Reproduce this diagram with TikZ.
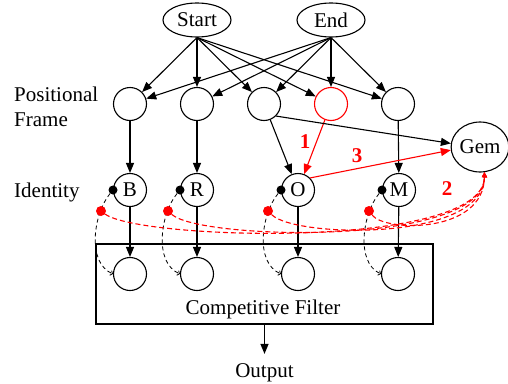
\documentclass[tikz,border=0pt]{standalone}
\usepackage{fontspec}
\setmainfont{Liberation Serif}
\usetikzlibrary{arrows.meta,shapes.geometric}
\begin{document}
\begin{tikzpicture}[x=1pt,y=-1pt,
  every node/.style={font=\fontsize{21}{25}\selectfont},
  lw/.style={line width=1.1pt},
  ell/.style={ellipse,draw,lw,inner sep=0pt,minimum width=68pt,minimum height=34pt},
  cir/.style={circle,draw,lw,inner sep=0pt,minimum size=33pt},
  arr/.style={lw,-{Triangle[length=10pt,width=8pt]}},
  blackdot/.style={circle,fill=black,inner sep=0pt,minimum size=9pt},
  reddot/.style={circle,fill=red,inner sep=0pt,minimum size=10pt},
  fb/.style={line width=0.8pt,dash pattern=on 4pt off 3pt,-{Straight Barb[length=2pt,width=5pt]}},
  rfb/.style={lw,red,dash pattern=on 5pt off 3pt,-{Triangle[length=5pt,width=5pt]}},
  num/.style={text=red,font=\fontsize{21}{25}\selectfont\bfseries}
]
\useasboundingbox (0,0) rectangle (508,383);

% top ellipses
\node[ell] (start) at (197,20) {Start};
\node[ell] (end) at (331,20) {End};

% positional frame
\node[cir] (p1) at (130,104) {};
\node[cir] (p2) at (197,104) {};
\node[cir] (p3) at (264,104) {};
\node[cir,draw=red] (p4) at (331,104) {};
\node[cir] (p5) at (398,104) {};

% identity
\node[cir] (B) at (130,190) {B};
\node[cir] (R) at (197,190) {R};
\node[cir] (O) at (298,190) {O};
\node[cir] (M) at (399,190) {M};

% Gem
\node[ellipse,draw,lw,inner sep=0pt,minimum width=56pt,minimum height=50pt] (gem) at (480,147) {Gem};

% competitive filter box
\node[draw,lw,minimum width=337pt,minimum height=80pt,inner sep=0pt] (box) at (264.5,284) {};
\node (cf) at (263,309) {Competitive Filter};
\node[cir] (q1) at (130,274) {};
\node[cir] (q2) at (197,274) {};
\node[cir] (q3) at (298,274) {};
\node[cir] (q4) at (398,274) {};
\node[anchor=base,inner sep=0pt] (out) at (264.5,377) {Output};

% side labels
\node[anchor=west,align=left,inner sep=0pt] (lpf) at (14,106.5) {Positional\\Frame};
\node[anchor=base west,inner sep=0pt] (lid) at (14,197) {Identity};

% numbers
\node[num] (n1) at (305,142) {1};
\node[num] (n3) at (357,156) {3};
\node[num] (n2) at (447,189) {2};

% start/end edges
\foreach \t in {p1,p2,p3,p4,p5}{
  \draw[arr] (start.south) -- (\t);
  \draw[arr] (end.south) -- (\t);
}

% vertical edges
\draw[arr] (p1) -- (B);
\draw[arr] (p2) -- (R);
\draw[arr] (p3) -- (O);
\draw[arr,red] (p4) -- (O);
\draw[arr] (p5) -- (M);
\draw[arr] (p3.-45) -- (gem.173);
\draw[arr,red] (O.45) -- (gem.186);

\draw[arr] (B) -- (q1);
\draw[arr] (R) -- (q2);
\draw[arr] (O) -- (q3);
\draw[arr] (M) -- (q4);
\draw[arr,shorten >=9pt] (box.south) -- (out.north);

% dots
\node[blackdot] (dB) at (113,190) {};
\node[blackdot] (dR) at (180,190) {};
\node[blackdot] (dO) at (281,190) {};
\node[blackdot] (dM) at (382,190) {};

% black dashed feedback
\draw[fb] (dB) .. controls (94,213) and (86,262) .. (q1.west);
\draw[fb] (dR) .. controls (161,213) and (153,262) .. (q2.west);
\draw[fb] (dO) .. controls (262,213) and (254,262) .. (q3.west);
\draw[fb] (dM) .. controls (363,213) and (355,262) .. (q4.west);

% red dots
\node[reddot] (rB) at (101,211) {};
\node[reddot] (rR) at (168,211) {};
\node[reddot] (rO) at (268,211) {};
\node[reddot] (rM) at (369,211) {};

% red dashed feedback to Gem
\draw[rfb] (rB) .. controls (140,240) and (484,250) .. (gem.-80);
\draw[rfb] (rR) .. controls (200,240) and (484,247) .. (gem.-80);
\draw[rfb] (rO) .. controls (295,238) and (484,242) .. (gem.-80);
\draw[rfb] (rM) .. controls (385,232) and (484,234) .. (gem.-80);
\end{tikzpicture}
\end{document}
